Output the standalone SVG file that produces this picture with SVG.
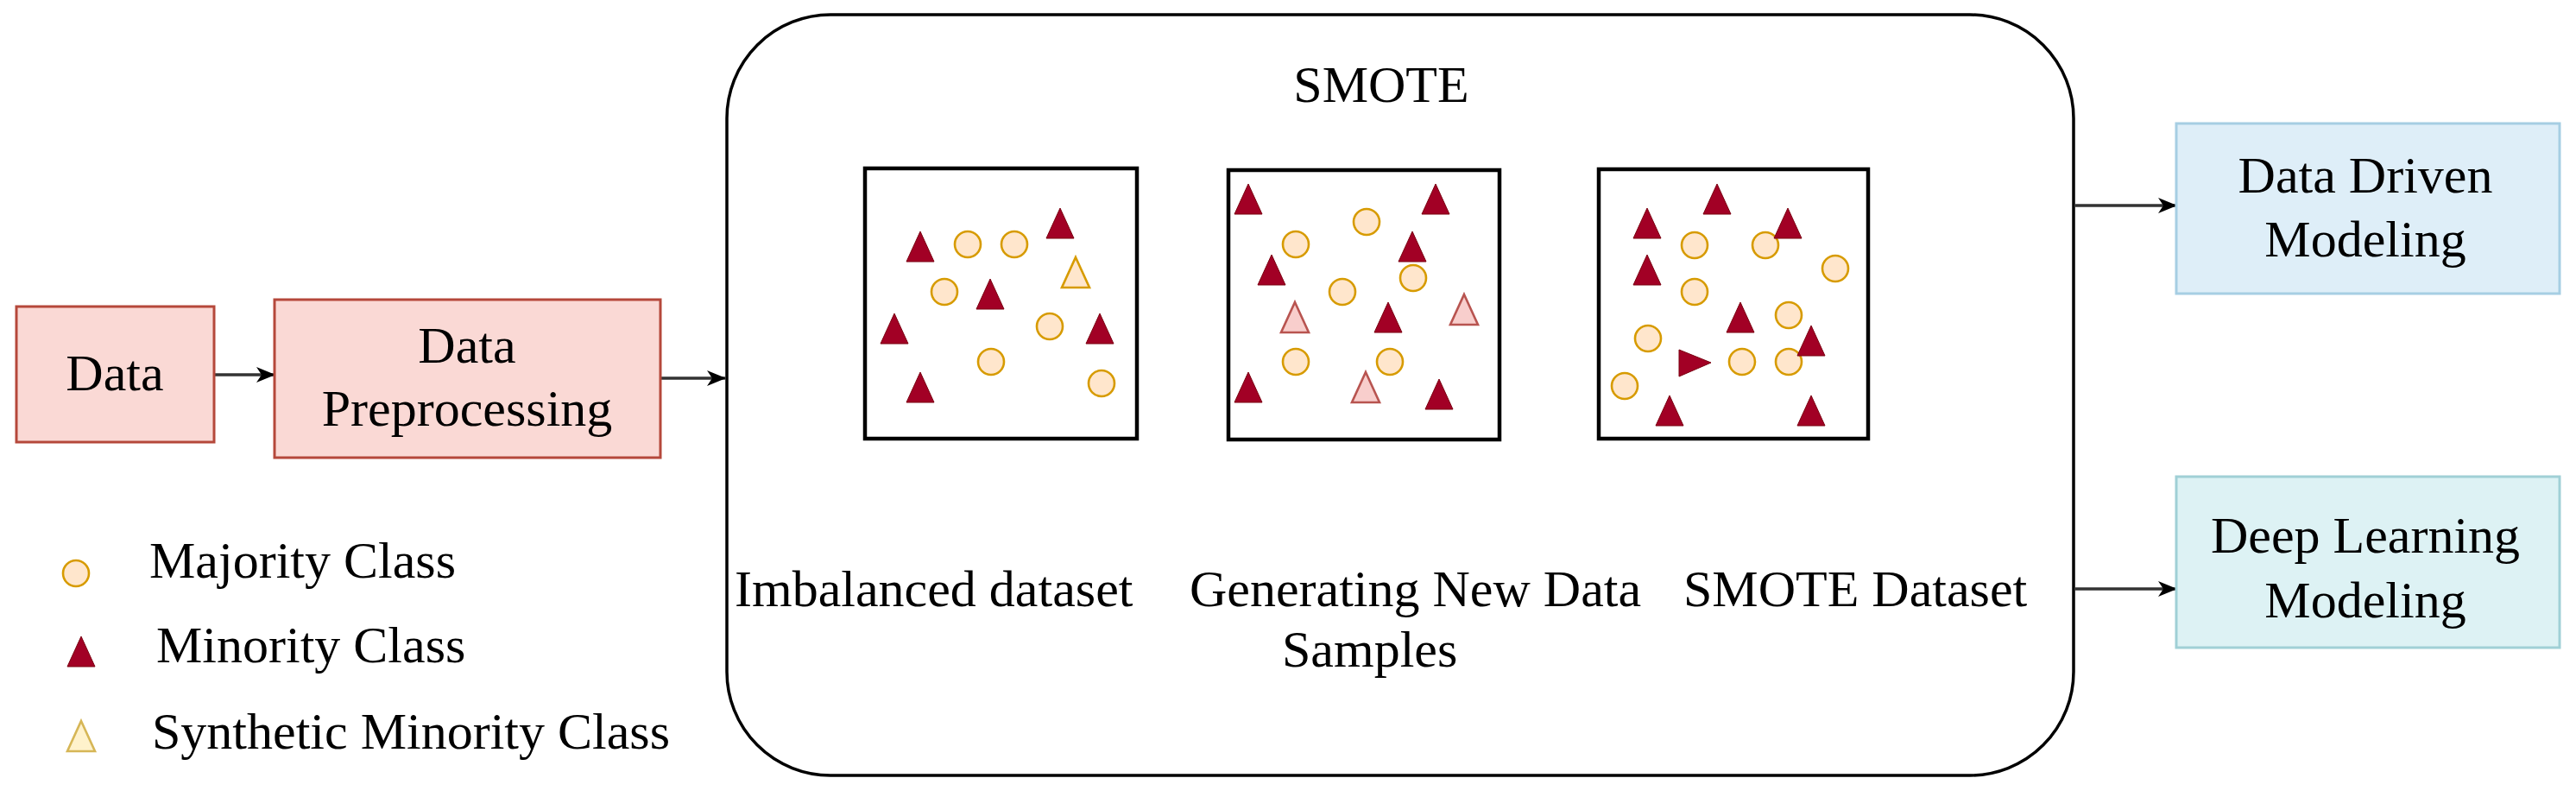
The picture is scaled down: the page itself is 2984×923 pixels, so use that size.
<svg xmlns="http://www.w3.org/2000/svg" xmlns:xlink="http://www.w3.org/1999/xlink" width="2984" height="923" viewBox="0 0 2984 923">
<style>
text{font-family:"Liberation Serif","Times New Roman",serif;font-size:60px;fill:#000}
.mid{text-anchor:middle}
.red{fill:#fad9d5;stroke:#b5483b;stroke-width:3}
.blue{fill:#deeef8;stroke:#a6cee3;stroke-width:3}
.cyan{fill:#ddf2f4;stroke:#a0d0d6;stroke-width:3}
.panel{fill:#fff;stroke:#000;stroke-width:4.5}
.maj{fill:#ffe6cc;stroke:#d79b00;stroke-width:2.6}
.min{fill:#a20025;stroke:#7a0010;stroke-width:1}
.synY{fill:#ffe6cc;stroke:#d79b00;stroke-width:2.6}
.synP{fill:#f8cecc;stroke:#b85450;stroke-width:2.6}
.synL{fill:#fff2cc;stroke:#d6b656;stroke-width:2.6}
.conn{fill:none;stroke:#333;stroke-width:3.5}
</style>
<defs>
<marker id="arr" markerUnits="userSpaceOnUse" markerWidth="22" markerHeight="22" viewBox="0 0 22 22" refX="21" refY="11" orient="auto">
<path d="M0,2 L22,11 L0,20 L6,11 Z" fill="#000"/>
</marker>
<path id="tri" d="M0,0 L16,35 L-16,35 Z"/>
</defs>

<g id="connectors">
<line class="conn" x1="248" y1="434" x2="318" y2="434" marker-end="url(#arr)"/>
<line class="conn" x1="765" y1="438" x2="840" y2="438" marker-end="url(#arr)"/>
<line class="conn" x1="2404" y1="238" x2="2521" y2="238" marker-end="url(#arr)"/>
<line class="conn" x1="2404" y1="682" x2="2521" y2="682" marker-end="url(#arr)"/>
</g>

<g id="data">
<rect class="red" x="19" y="355" width="229" height="157"/>
<text class="mid" x="133" y="452">Data</text>
</g>

<g id="preprocessing">
<rect class="red" x="318" y="347" width="447" height="183"/>
<text class="mid" x="541" y="420">Data</text>
<text class="mid" x="541" y="493">Preprocessing</text>
</g>

<g id="smote">
<rect x="842" y="17" width="1560" height="881" rx="120" ry="120" fill="#fff" stroke="#000" stroke-width="3.5"/>
<text class="mid" x="1600" y="118">SMOTE</text>
<text x="851" y="702">Imbalanced dataset</text>
<text x="1378" y="702">Generating New Data</text>
<text x="1485" y="772">Samples</text>
<text x="1950" y="702">SMOTE Dataset</text>
</g>

<g id="panel-imbalanced">
<rect class="panel" x="1002" y="195" width="315" height="313"/>
<circle class="maj" cx="1121" cy="283" r="15"/>
<circle class="maj" cx="1175" cy="283" r="15"/>
<circle class="maj" cx="1094" cy="338" r="15"/>
<circle class="maj" cx="1216" cy="378" r="15"/>
<circle class="maj" cx="1148" cy="419" r="15"/>
<circle class="maj" cx="1276" cy="444" r="15"/>
<use href="#tri" class="min" x="1066" y="268"/>
<use href="#tri" class="min" x="1228" y="241"/>
<use href="#tri" class="min" x="1147" y="323"/>
<use href="#tri" class="min" x="1036" y="363"/>
<use href="#tri" class="min" x="1274" y="363"/>
<use href="#tri" class="min" x="1066" y="431"/>
<use href="#tri" class="synY" x="1246" y="298"/>
</g>

<g id="panel-generating">
<rect class="panel" x="1423" y="197" width="314" height="312"/>
<circle class="maj" cx="1583" cy="257" r="15"/>
<circle class="maj" cx="1501" cy="283" r="15"/>
<circle class="maj" cx="1637" cy="322" r="15"/>
<circle class="maj" cx="1555" cy="338" r="15"/>
<circle class="maj" cx="1501" cy="419" r="15"/>
<circle class="maj" cx="1610" cy="419" r="15"/>
<use href="#tri" class="min" x="1446" y="213"/>
<use href="#tri" class="min" x="1663" y="213"/>
<use href="#tri" class="min" x="1636" y="268"/>
<use href="#tri" class="min" x="1473" y="295"/>
<use href="#tri" class="min" x="1608" y="350"/>
<use href="#tri" class="min" x="1446" y="431"/>
<use href="#tri" class="min" x="1667" y="439"/>
<use href="#tri" class="synP" x="1500" y="350"/>
<use href="#tri" class="synP" x="1696" y="341"/>
<use href="#tri" class="synP" x="1582" y="431"/>
</g>

<g id="panel-smote">
<rect class="panel" x="1852" y="196" width="312" height="312"/>
<circle class="maj" cx="1963" cy="284" r="15"/>
<circle class="maj" cx="2045" cy="284" r="15"/>
<circle class="maj" cx="2126" cy="311" r="15"/>
<circle class="maj" cx="1963" cy="338" r="15"/>
<circle class="maj" cx="2072" cy="365" r="15"/>
<circle class="maj" cx="1909" cy="392" r="15"/>
<circle class="maj" cx="2018" cy="419" r="15"/>
<circle class="maj" cx="2072" cy="419" r="15"/>
<circle class="maj" cx="1882" cy="447" r="15"/>
<use href="#tri" class="min" x="1989" y="213"/>
<use href="#tri" class="min" x="1908" y="241"/>
<use href="#tri" class="min" x="2071" y="241"/>
<use href="#tri" class="min" x="1908" y="295"/>
<use href="#tri" class="min" x="2016" y="350"/>
<use href="#tri" class="min" x="2098" y="377"/>
<use href="#tri" class="min" x="1934" y="458"/>
<use href="#tri" class="min" x="2098" y="458"/>
<polygon class="min" points="1945,405 1982,420 1945,436"/>
</g>

<g id="data-driven">
<rect class="blue" x="2521" y="143" width="444" height="197"/>
<text class="mid" x="2740" y="223">Data Driven</text>
<text class="mid" x="2740" y="297">Modeling</text>
</g>

<g id="deep-learning">
<rect class="cyan" x="2521" y="552" width="444" height="198"/>
<text class="mid" x="2740" y="640">Deep Learning</text>
<text class="mid" x="2740" y="715">Modeling</text>
</g>

<g id="legend">
<circle class="maj" cx="88" cy="664" r="15"/>
<text x="173" y="669">Majority Class</text>
<use href="#tri" class="min" x="94" y="737"/>
<text x="181" y="767">Minority Class</text>
<use href="#tri" class="synL" x="94" y="835"/>
<text x="176" y="867">Synthetic Minority Class</text>
</g>
</svg>
